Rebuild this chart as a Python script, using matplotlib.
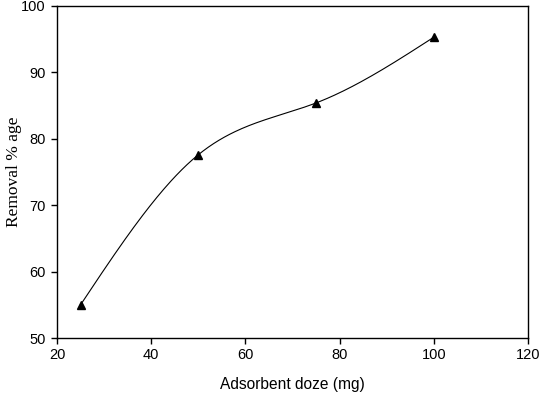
import numpy as np
import matplotlib.pyplot as plt

dose = [25, 50, 75, 100]
removal = [55.0, 77.6, 85.4, 95.3]
x_ticks = [20, 40, 60, 80, 100, 120]
y_ticks = [50, 60, 70, 80, 90, 100]


def natural_spline(x, y, n=200):
    # natural cubic spline, just for drawing the smooth connecting line
    x = np.asarray(x, float)
    y = np.asarray(y, float)
    k = len(x)
    h = np.diff(x)
    A = np.zeros((k, k))
    b = np.zeros(k)
    A[0, 0] = A[-1, -1] = 1
    for i in range(1, k - 1):
        A[i, i - 1] = h[i - 1]
        A[i, i] = 2 * (h[i - 1] + h[i])
        A[i, i + 1] = h[i]
        b[i] = 6 * ((y[i + 1] - y[i]) / h[i] - (y[i] - y[i - 1]) / h[i - 1])
    M = np.linalg.solve(A, b)
    xs = np.linspace(x[0], x[-1], n)
    idx = np.clip(np.searchsorted(x, xs) - 1, 0, k - 2)
    x0, x1 = x[idx], x[idx + 1]
    hh = x1 - x0
    t0, t1 = x1 - xs, xs - x0
    ys = (M[idx] * t0**3 + M[idx + 1] * t1**3) / (6 * hh) \
        + (y[idx] / hh - M[idx] * hh / 6) * t0 \
        + (y[idx + 1] / hh - M[idx + 1] * hh / 6) * t1
    return xs, ys


plt.rcParams['font.family'] = ['Liberation Sans', 'DejaVu Sans']

fig = plt.figure(figsize=(5.4, 3.94), dpi=100)
ax = fig.add_axes([0.1056, 0.1421, 0.8722, 0.8427])

xs, ys = natural_spline(dose, removal)
ax.plot(xs, ys, color='black', lw=0.8)
ax.plot(dose, removal, linestyle='none', marker='^', color='black', markersize=6)

ax.set_xlim(20, 120)
ax.set_ylim(50, 100)
ax.set_xticks(x_ticks)
ax.set_yticks(y_ticks)
ax.tick_params(direction='out', length=4, width=1, labelsize=10.5, pad=3)
ax.tick_params(axis='y', pad=4)
for s in ax.spines.values():
    s.set_linewidth(1)

ax.set_xlabel('Adsorbent doze (mg)', fontsize=11.2, labelpad=11)
ax.set_ylabel('Removal % age', fontsize=12.5, family=['Liberation Serif'])
ax.yaxis.set_label_coords(-0.074, 0.5)

fig.savefig('out.png', dpi=100)
